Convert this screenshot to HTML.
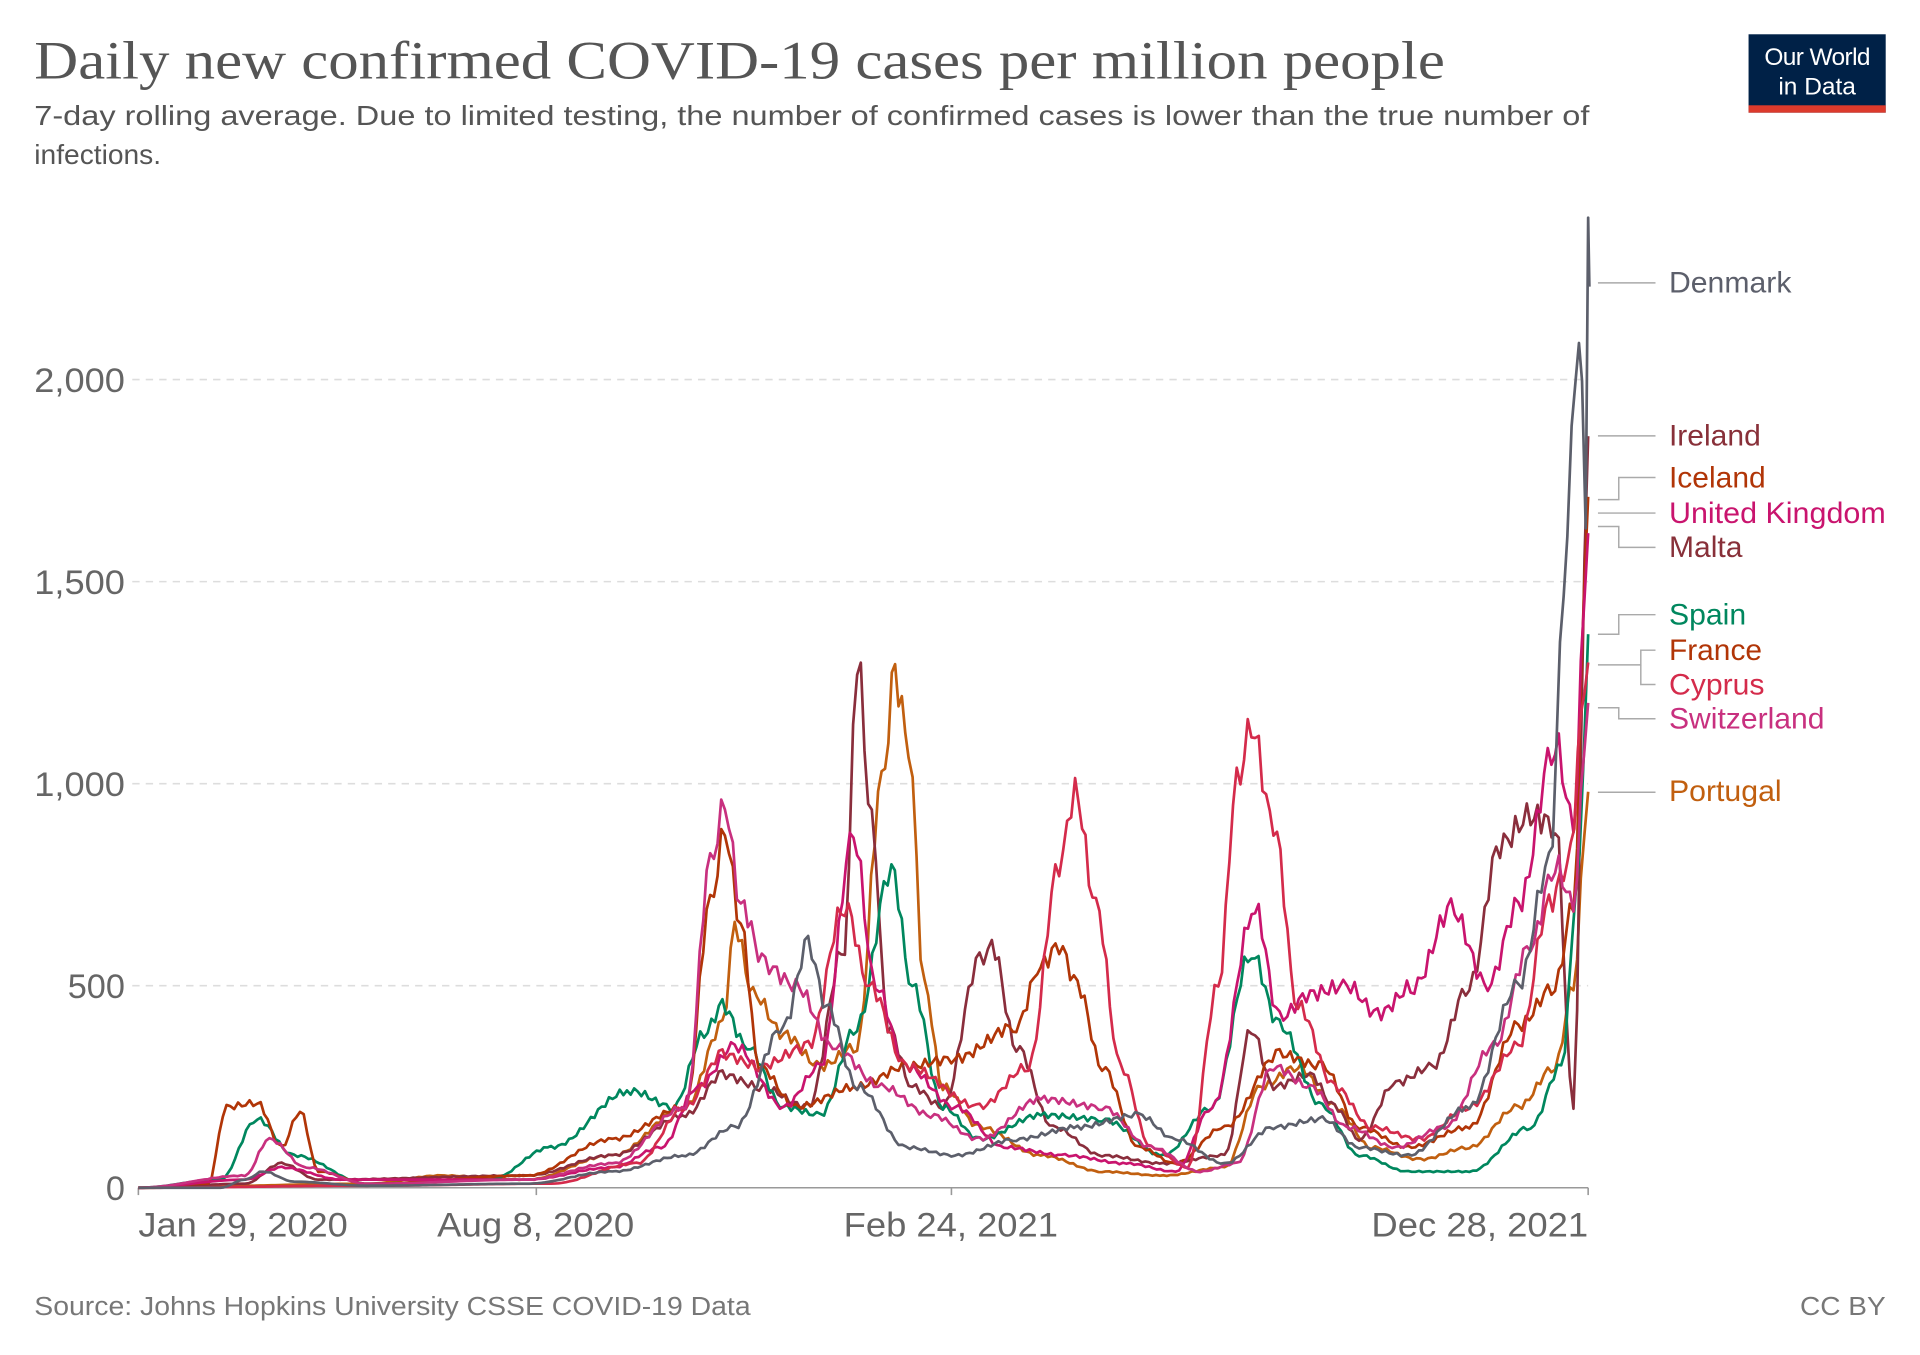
<!DOCTYPE html>
<html><head><meta charset="utf-8"><style>
html,body{margin:0;padding:0;background:#fff;width:1920px;height:1355px;overflow:hidden}
svg{display:block}
text{font-family:"Liberation Sans",sans-serif}
</style></head><body>
<svg id="s" width="1920" height="1355" viewBox="0 0 1568 1106.6" xmlns="http://www.w3.org/2000/svg">
<rect width="1568" height="1107" fill="#fff"/>
<text x="28" y="64" font-size="44" fill="#555" textLength="1152" lengthAdjust="spacingAndGlyphs" style="font-family:'Liberation Serif',serif">Daily new confirmed COVID-19 cases per million people</text>
<text x="28" y="102" font-size="23" fill="#555" textLength="1270" lengthAdjust="spacingAndGlyphs">7-day rolling average. Due to limited testing, the number of confirmed cases is lower than the true number of</text>
<text x="28" y="134" font-size="23" fill="#555">infections.</text>
<rect x="1428" y="28" width="112" height="64" fill="#002147"/>
<rect x="1428" y="86" width="112" height="6" fill="#dc3a2c"/>
<text x="1484" y="53" font-size="20" fill="#fff" text-anchor="middle" letter-spacing="-0.5">Our World</text>
<text x="1484" y="77" font-size="20" fill="#fff" text-anchor="middle">in Data</text>
<g stroke="#ddd" stroke-dasharray="6,5" stroke-width="1.3">
<line x1="108" x2="1297" y1="310" y2="310"/><line x1="108" x2="1297" y1="475" y2="475"/>
<line x1="108" x2="1297" y1="640" y2="640"/><line x1="108" x2="1297" y1="805" y2="805"/>
</g>
<line x1="113" x2="1297" y1="970" y2="970" stroke="#999" stroke-width="1.3"/>
<g stroke="#999" stroke-width="1.3"><line x1="113" x2="113" y1="970" y2="976"/><line x1="438" x2="438" y1="970" y2="976"/><line x1="777" x2="777" y1="970" y2="976"/><line x1="1297" x2="1297" y1="970" y2="976"/></g>
<g font-size="28" fill="#666" text-anchor="end">
<text x="102" y="320" textLength="74" lengthAdjust="spacingAndGlyphs">2,000</text><text x="102" y="485" textLength="74" lengthAdjust="spacingAndGlyphs">1,500</text><text x="102" y="650" textLength="74" lengthAdjust="spacingAndGlyphs">1,000</text><text x="102" y="815">500</text><text x="102" y="980">0</text>
</g>
<g font-size="28" fill="#666">
<text x="113" y="1010" textLength="171" lengthAdjust="spacingAndGlyphs">Jan 29, 2020</text>
<text x="357" y="1010" textLength="161" lengthAdjust="spacingAndGlyphs">Aug 8, 2020</text>
<text x="689" y="1010" textLength="175" lengthAdjust="spacingAndGlyphs">Feb 24, 2021</text>
<text x="1120" y="1010" textLength="177" lengthAdjust="spacingAndGlyphs">Dec 28, 2021</text>
</g>
<text x="28" y="1074" font-size="21" fill="#777" textLength="585" lengthAdjust="spacingAndGlyphs">Source: Johns Hopkins University CSSE COVID-19 Data</text>
<text x="1470" y="1074" font-size="21" fill="#777" textLength="70" lengthAdjust="spacingAndGlyphs">CC BY</text>
<g id="series" fill="none" stroke-width="2.2" stroke-linejoin="round"></g>
<g stroke="#aaa" stroke-width="1.2" fill="none">
<polyline points="1305,231 1352,231"/>
<polyline points="1305,356 1352,356"/>
<polyline points="1305,408 1322,408 1322,390 1352,390"/>
<polyline points="1305,419 1352,419"/>
<polyline points="1305,430 1322,430 1322,447 1352,447"/>
<polyline points="1305,518 1322,518 1322,502 1352,502"/>
<polyline points="1305,543 1340,543 1340,531 1352,531"/>
<polyline points="1340,543 1340,559 1352,559"/>
<polyline points="1305,578 1322,578 1322,587 1352,587"/>
<polyline points="1305,647 1352,647"/>
</g>
<g font-size="24">
<text x="1363" y="239" fill="#5c5f6b" textLength="100" lengthAdjust="spacingAndGlyphs">Denmark</text>
<text x="1363" y="364" fill="#883039" textLength="75" lengthAdjust="spacingAndGlyphs">Ireland</text>
<text x="1363" y="398" fill="#b13507" textLength="79" lengthAdjust="spacingAndGlyphs">Iceland</text>
<text x="1363" y="427" fill="#c9146e" textLength="177" lengthAdjust="spacingAndGlyphs">United Kingdom</text>
<text x="1363" y="455" fill="#883039" textLength="60" lengthAdjust="spacingAndGlyphs">Malta</text>
<text x="1363" y="510" fill="#00875e" textLength="63" lengthAdjust="spacingAndGlyphs">Spain</text>
<text x="1363" y="539" fill="#b13507" textLength="76" lengthAdjust="spacingAndGlyphs">France</text>
<text x="1363" y="567" fill="#d42b4b" textLength="78" lengthAdjust="spacingAndGlyphs">Cyprus</text>
<text x="1363" y="595" fill="#c8307f" textLength="127" lengthAdjust="spacingAndGlyphs">Switzerland</text>
<text x="1363" y="654" fill="#c15f0f" textLength="92" lengthAdjust="spacingAndGlyphs">Portugal</text>
</g>
</svg>
<script>
var S={
"#c15f0f":[[113,0],[300,10],[360,30],[430,20],[500,80],[560,200],[590,400],[600,650],[615,480],[640,380],[670,300],[700,350],[720,1000],[731,1265],[742,1100],[755,500],[770,250],[800,150],[850,80],[900,40],[950,30],[1000,50],[1030,250],[1060,300],[1090,200],[1120,100],[1160,70],[1200,100],[1240,200],[1270,300],[1285,500],[1297,980]],
"#8a2e3c":[[113,0],[200,10],[230,60],[260,20],[430,30],[500,80],[560,180],[590,280],[620,250],[660,200],[690,600],[700,1310],[712,900],[725,400],[745,250],[770,200],[800,560],[810,600],[830,350],[860,150],[900,80],[950,60],[1000,80],[1022,390],[1040,250],[1070,280],[1090,200],[1110,120],[1140,260],[1170,300],[1200,500],[1225,850],[1250,920],[1270,900],[1285,200],[1297,1860]],
"#00875e":[[113,0],[180,20],[210,170],[240,80],[300,10],[400,20],[450,100],[515,240],[550,200],[575,380],[590,450],[610,350],[640,200],[670,180],[700,400],[728,790],[745,500],[770,200],[800,120],[850,180],[900,170],[950,80],[990,200],[1022,580],[1045,400],[1080,200],[1110,80],[1150,40],[1200,40],[1250,150],[1275,300],[1290,800],[1297,1370]],
"#b13507":[[113,0],[170,10],[185,200],[210,210],[230,100],[245,190],[260,40],[300,10],[430,30],[500,120],[560,200],[580,700],[592,880],[605,650],[620,300],[650,200],[700,250],[740,300],[780,320],[830,400],[850,550],[865,600],[880,500],[900,300],[930,100],[960,60],[1000,150],[1045,330],[1080,300],[1110,150],[1150,100],[1200,150],[1240,400],[1270,500],[1285,700],[1297,1710]],
"#c9146e":[[113,0],[200,20],[230,50],[280,20],[430,20],[500,50],[540,100],[570,250],[600,350],[640,200],[670,300],[697,870],[715,500],[740,300],[780,200],[820,100],[870,80],[920,60],[960,40],[990,200],[1025,690],[1045,420],[1070,480],[1100,500],[1125,430],[1155,500],[1185,690],[1215,500],[1240,700],[1270,1100],[1285,900],[1297,1620]],
"#d42b4b":[[113,0],[300,5],[450,10],[520,60],[560,200],[590,330],[620,300],[660,350],[690,700],[710,500],[740,300],[800,200],[840,300],[865,800],[878,980],[895,700],[915,300],[940,100],[970,50],[995,500],[1010,1000],[1022,1140],[1040,900],[1060,450],[1090,250],[1120,150],[1160,120],[1200,200],[1240,350],[1265,700],[1280,800],[1297,1300]],
"#c8307f":[[113,0],[200,30],[220,120],[250,50],[300,10],[430,20],[500,60],[560,200],[580,800],[592,945],[605,700],[625,550],[650,500],[680,350],[720,250],[760,180],[800,120],[850,220],[900,200],[940,100],[980,40],[1010,60],[1040,300],[1070,250],[1100,150],[1140,100],[1180,150],[1220,350],[1250,600],[1270,800],[1285,700],[1297,1200]],
"#5c5f6b":[[113,0],[180,0],[200,20],[215,40],[240,15],[300,5],[430,10],[500,40],[560,80],[600,150],[640,400],[660,600],[675,450],[700,250],[740,100],[780,80],[830,120],[880,150],[930,180],[960,120],[1000,60],[1040,150],[1080,170],[1110,100],[1150,80],[1200,200],[1240,500],[1265,800],[1280,1600],[1287,2080],[1292,1950],[1295,1700],[1297,2420],[1298,2230]]
};
var g=document.getElementById('series'),ns='http://www.w3.org/2000/svg';
for(var c in S){var p=S[c],pts=[];
 for(var i=0;i<p.length-1;i++){var a=p[i],b=p[i+1],n=Math.max(1,Math.round((b[0]-a[0])/3));
  for(var k=0;k<n;k++){var t=k/n,tt=(1-Math.cos(t*Math.PI))/2,v=a[1]+(b[1]-a[1])*tt;
   if(v>20)v+=(Math.sin(a[0]*7+k*2.3)*0.04)*v;
   pts.push((a[0]+(b[0]-a[0])*t).toFixed(1)+','+(970-v*0.33).toFixed(1));}}
 var l=p[p.length-1];pts.push(l[0]+','+(970-l[1]*0.33));
 var e=document.createElementNS(ns,'polyline');e.setAttribute('points',pts.join(' '));e.setAttribute('stroke',c);g.appendChild(e);}
</script>
</body></html>
